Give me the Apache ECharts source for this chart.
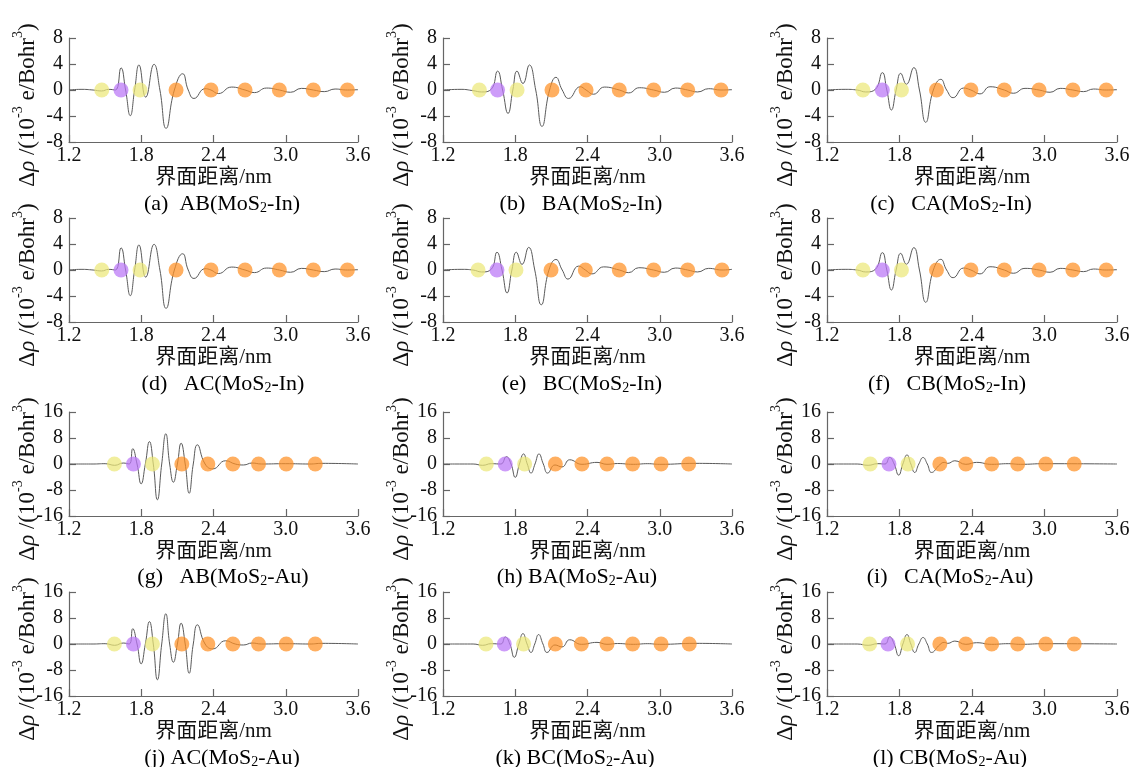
<!DOCTYPE html>
<html>
<head>
<meta charset="utf-8">
<script src="https://cdn.jsdelivr.net/npm/echarts@6/dist/echarts.min.js"></script>
<style>
    html, body { margin: 0; padding: 0; background: #fff; }
    #chart { width: 1137px; height: 767px; }
</style>
</head>
<body>
<div id="chart"></div>
<script>
// tick labels
const xTicks = [1.2, 1.8, 2.4, 3.0, 3.6]
const yTicksIn = [-8, -4, 0, 4, 8]
const yTicksAu = [-16, -8, 0, 8, 16]

// captions
const panelLetters = ["(a)", "(b)", "(c)", "(d)", "(e)", "(f)", "(g)", "(h)", "(i)", "(j)", "(k)", "(l)"]
const panelStack = ["AB", "BA", "CA", "AC", "BC", "CB", "AB", "BA", "CA", "AC", "BC", "CB"]
const panelMetal = ["In", "In", "In", "In", "In", "In", "Au", "Au", "Au", "Au", "Au", "Au"]

// charge density difference curves [distance nm, value]
const lineA = [[1.2, 0], [1.3, 0.1], [1.4, 0], [1.47, -0.15], [1.53, 0.1], [1.585, 0], [1.632, 3.4], [1.67, 0], [1.709, -3.95], [1.745, 0], [1.781, 3.85], [1.837, -1.1], [1.906, 3.95], [1.955, 0], [2.006, -5.9], [2.075, 0], [2.144, 2.5], [2.19, 0], [2.238, -1.3], [2.33, 0.2], [2.379, 0], [2.44, -0.55], [2.55, 0.45], [2.662, 0], [2.74, -0.4], [2.84, 0.3], [2.947, 0], [3.04, -0.35], [3.13, 0.25], [3.229, 0], [3.32, -0.25], [3.41, 0.15], [3.512, 0], [3.6, 0.05]]
const lineB = [[1.2, 0], [1.35, 0.1], [1.45, -0.1], [1.52, -0.3], [1.6, 0.1], [1.653, 2.9], [1.695, 0], [1.74, -3.6], [1.78, 0], [1.815, 2.9], [1.864, 1.0], [1.917, 3.85], [1.97, 0], [2.022, -5.6], [2.085, 0], [2.138, 1.95], [2.19, 0], [2.243, -1.3], [2.34, 0.5], [2.388, 0], [2.45, -0.65], [2.54, 0.45], [2.664, 0], [2.742, -0.45], [2.83, 0.35], [2.949, 0], [3.04, -0.35], [3.13, 0.3], [3.232, 0], [3.315, -0.3], [3.406, 0.2], [3.509, 0], [3.6, 0.05]]
const lineC = [[1.2, 0], [1.35, 0.1], [1.45, 0], [1.52, -0.3], [1.6, 0.1], [1.658, 2.67], [1.695, 0], [1.733, -3.08], [1.772, 0], [1.81, 2.56], [1.857, 0.88], [1.918, 3.44], [1.965, 0], [2.017, -4.97], [2.08, 0], [2.142, 1.64], [2.19, 0], [2.244, -1.18], [2.33, 0.3], [2.391, 0], [2.466, -0.6], [2.549, 0.5], [2.667, 0], [2.742, -0.5], [2.839, 0.25], [2.955, 0], [3.046, -0.35], [3.13, 0.25], [3.235, 0], [3.323, -0.25], [3.406, 0.15], [3.511, 0], [3.6, 0.05]]
const lineD = [[1.2, 0], [1.3, 0.1], [1.4, 0], [1.47, -0.15], [1.53, 0.1], [1.585, 0], [1.632, 3.4], [1.67, 0], [1.709, -3.95], [1.745, 0], [1.781, 3.85], [1.837, -1.1], [1.906, 3.95], [1.955, 0], [2.006, -5.9], [2.075, 0], [2.144, 2.5], [2.19, 0], [2.238, -1.3], [2.33, 0.2], [2.379, 0], [2.44, -0.55], [2.55, 0.45], [2.662, 0], [2.74, -0.4], [2.84, 0.3], [2.947, 0], [3.04, -0.35], [3.13, 0.25], [3.229, 0], [3.32, -0.25], [3.41, 0.15], [3.512, 0], [3.6, 0.05]]
const lineE = [[1.2, 0], [1.35, 0.1], [1.45, 0], [1.52, -0.3], [1.6, 0.1], [1.648, 2.73], [1.69, 0], [1.732, -3.53], [1.772, 0], [1.809, 2.73], [1.856, 0.86], [1.911, 3.48], [1.962, 0], [2.016, -5.35], [2.08, 0], [2.138, 1.62], [2.19, 0], [2.238, -1.4], [2.326, 0.6], [2.382, 0], [2.437, -0.6], [2.534, 0.48], [2.664, 0], [2.742, -0.4], [2.825, 0.35], [2.949, 0], [3.038, -0.35], [3.129, 0.3], [3.232, 0], [3.315, -0.3], [3.406, 0.25], [3.517, 0], [3.6, 0.1]]
const lineF = [[1.2, 0], [1.35, 0.1], [1.45, 0], [1.52, -0.3], [1.6, 0.1], [1.658, 2.67], [1.695, 0], [1.733, -3.08], [1.772, 0], [1.81, 2.56], [1.857, 0.88], [1.918, 3.44], [1.965, 0], [2.017, -4.97], [2.08, 0], [2.142, 1.64], [2.19, 0], [2.244, -1.18], [2.33, 0.3], [2.391, 0], [2.466, -0.6], [2.549, 0.5], [2.667, 0], [2.742, -0.5], [2.839, 0.25], [2.955, 0], [3.046, -0.35], [3.13, 0.25], [3.235, 0], [3.323, -0.25], [3.406, 0.15], [3.511, 0], [3.6, 0.05]]
const lineG = [[1.2, 0], [1.4, 0], [1.5, 0.1], [1.58, -0.4], [1.65, 0.3], [1.7, 0], [1.729, 4.7], [1.765, 0], [1.799, -6.1], [1.834, 0], [1.868, 6.9], [1.9, 0], [1.934, -11.0], [1.97, 0], [2.004, 9.3], [2.036, 0], [2.067, -5.6], [2.1, 0], [2.131, 6.4], [2.165, 0], [2.198, -9.0], [2.232, 0], [2.266, 5.9], [2.33, 0], [2.394, -1.5], [2.5, 1.0], [2.58, 0], [2.65, -0.3], [2.72, 0.3], [2.8, 0], [3.0, 0.1], [3.2, 0], [3.3, 0.2], [3.6, 0]]
const lineH = [[1.2, 0], [1.45, 0], [1.53, -0.4], [1.6, 0.1], [1.68, 0], [1.726, 2.25], [1.765, 0], [1.8, -4.1], [1.835, 0], [1.869, 3.1], [1.9, 0], [1.931, -2.8], [1.964, 0], [1.997, 3.1], [2.033, 0], [2.069, -2.8], [2.13, -0.3], [2.188, -0.9], [2.252, 1.3], [2.354, -0.1], [2.479, 0.5], [2.562, -0.1], [2.65, 0.15], [2.78, -0.1], [2.9, 0.1], [3.0, -0.1], [3.3, 0.2], [3.6, 0]]
const lineI = [[1.2, 0], [1.45, 0], [1.54, -0.4], [1.62, 0.1], [1.68, 0], [1.719, 2.0], [1.756, 0], [1.793, -3.4], [1.828, 0], [1.862, 2.8], [1.894, 0], [1.926, -2.6], [1.96, 0], [1.995, 2.0], [2.03, 0], [2.065, -2.6], [2.134, -0.2], [2.17, 0.5], [2.2, 0.2], [2.258, 1.0], [2.349, -0.1], [2.438, 0.5], [2.563, -0.1], [2.7, 0.1], [2.8, -0.1], [3.0, 0.1], [3.6, 0]]
const lineJ = [[1.2, 0], [1.4, 0], [1.5, 0.1], [1.58, -0.4], [1.65, 0.3], [1.7, 0], [1.729, 4.7], [1.765, 0], [1.799, -6.1], [1.834, 0], [1.868, 6.9], [1.9, 0], [1.934, -11.0], [1.97, 0], [2.004, 9.3], [2.036, 0], [2.067, -5.6], [2.1, 0], [2.131, 6.4], [2.165, 0], [2.198, -9.0], [2.232, 0], [2.266, 5.9], [2.33, 0], [2.394, -1.5], [2.5, 1.0], [2.58, 0], [2.65, -0.3], [2.72, 0.3], [2.8, 0], [3.0, 0.1], [3.2, 0], [3.3, 0.2], [3.6, 0]]
const lineK = [[1.2, 0], [1.45, 0], [1.53, -0.4], [1.6, 0.1], [1.68, 0], [1.717, 2.15], [1.755, 0], [1.792, -4.1], [1.83, 0], [1.864, 3.2], [1.898, 0], [1.931, -2.6], [1.962, 0], [1.994, 2.9], [2.03, 0], [2.064, -2.6], [2.13, -0.3], [2.188, -0.9], [2.252, 1.3], [2.349, -0.1], [2.479, 0.5], [2.562, -0.1], [2.65, 0.15], [2.78, -0.1], [2.9, 0.1], [3.0, -0.1], [3.3, 0.2], [3.6, 0]]
const lineL = [[1.2, 0], [1.45, 0], [1.54, -0.4], [1.62, 0.1], [1.68, 0], [1.719, 2.2], [1.756, 0], [1.793, -3.6], [1.828, 0], [1.862, 2.9], [1.894, 0], [1.926, -2.6], [1.96, 0], [1.995, 2.0], [2.03, 0], [2.065, -2.6], [2.134, -0.2], [2.17, 0.5], [2.2, 0.2], [2.258, 0.9], [2.349, -0.1], [2.438, 0.4], [2.563, -0.1], [2.7, 0.1], [2.8, -0.1], [3.0, 0.1], [3.6, 0]]

// atom positions along the interface normal (nm)
const yellowA = [1.472, 1.79], purpleA = [1.632], orangeA = [2.089, 2.379, 2.662, 2.947, 3.229, 3.512]
const yellowB = [1.502, 1.815], purpleB = [1.653], orangeB = [2.105, 2.388, 2.664, 2.949, 3.232, 3.509]
const yellowC = [1.497, 1.816], purpleC = [1.658], orangeC = [2.106, 2.391, 2.667, 2.955, 3.235, 3.511]
const yellowD = [1.472, 1.79], purpleD = [1.632], orangeD = [2.089, 2.379, 2.662, 2.947, 3.229, 3.512]
const yellowE = [1.491, 1.806], purpleE = [1.648], orangeE = [2.097, 2.382, 2.664, 2.949, 3.232, 3.517]
const yellowF = [1.497, 1.816], purpleF = [1.658], orangeF = [2.106, 2.391, 2.667, 2.955, 3.235, 3.511]
const yellowG = [1.577, 1.893], purpleG = [1.735], orangeG = [2.137, 2.353, 2.561, 2.774, 3.004, 3.245]
const yellowH = [1.56, 1.878], purpleH = [1.717], orangeH = [2.133, 2.354, 2.562, 2.775, 3.011, 3.24]
const yellowI = [1.558, 1.871], purpleI = [1.713], orangeI = [2.134, 2.349, 2.563, 2.778, 3.011, 3.246]
const yellowJ = [1.577, 1.893], purpleJ = [1.735], orangeJ = [2.137, 2.353, 2.561, 2.774, 3.004, 3.245]
const yellowK = [1.557, 1.869], purpleK = [1.709], orangeK = [2.133, 2.349, 2.562, 2.775, 3.011, 3.245]
const yellowL = [1.553, 1.866], purpleL = [1.705], orangeL = [2.134, 2.349, 2.563, 2.778, 3.011, 3.246]

const lines = [lineA, lineB, lineC, lineD, lineE, lineF, lineG, lineH, lineI, lineJ, lineK, lineL]
const yellows = [yellowA, yellowB, yellowC, yellowD, yellowE, yellowF, yellowG, yellowH, yellowI, yellowJ, yellowK, yellowL]
const purples = [purpleA, purpleB, purpleC, purpleD, purpleE, purpleF, purpleG, purpleH, purpleI, purpleJ, purpleK, purpleL]
const oranges = [orangeA, orangeB, orangeC, orangeD, orangeE, orangeF, orangeG, orangeH, orangeI, orangeJ, orangeK, orangeL]

// layout
const colLeft = [69, 443, 827]
const rowTop = [38, 218, 412, 592]
const gridW = 289
const gridH = 104
const captionX = [222, 581, 951, 223, 582, 947, 223, 577, 950, 222, 575, 950]
const captionY = [201, 381, 574, 755]
const captionGap = ["  ", "   ", "   ", "   ", "   ", "   ", "   ", " ", "   ", " ", " ", " "]

const serif = "'Liberation Serif', 'Noto Sans CJK SC', serif"
const axisColor = "#666"
const colors = {
    yellow: "rgba(236, 231, 120, 0.9)",
    purple: "rgba(186, 118, 246, 0.9)",
    orange: "rgba(255, 144, 36, 0.9)",
    line: "#5a5a5a",
}

const chart = echarts.init(document.getElementById("chart"), null, { renderer: "canvas" })

let grids = [], xAxes = [], yAxes = [], series = [], graphics = []

const nameRich = {
    n: { fontSize: 23, fontFamily: serif, color: "#111", verticalAlign: "bottom", lineHeight: 28 },
    r: { fontSize: 23, fontFamily: serif, fontStyle: "italic", color: "#111", verticalAlign: "bottom", lineHeight: 28 },
    s: { fontSize: 14, fontFamily: serif, color: "#111", verticalAlign: "top", lineHeight: 17 },
}

const capRich = {
    n: { fontSize: 22, fontFamily: serif, color: "#111", verticalAlign: "bottom", lineHeight: 28 },
    b: { fontSize: 14, fontFamily: serif, color: "#111", verticalAlign: "bottom", lineHeight: 14 },
}

for (let i = 0; i < 12; i++) {
    const row = Math.floor(i / 3)
    const col = i % 3
    const isAu = row >= 2
    const yTicks = isAu ? yTicksAu : yTicksIn

    grids.push({
        left: colLeft[col],
        top: rowTop[row],
        width: gridW + (col === 2 ? 1 : 0),
        height: gridH,
        containLabel: false,
        outerBoundsMode: "none",
    })

    xAxes.push({
        gridIndex: i,
        type: "value",
        min: xTicks[0],
        max: xTicks[xTicks.length - 1],
        interval: 0.6,
        name: "界面距离/nm",
        nameLocation: "middle",
        nameGap: 23,
        nameMoveOverlap: false,
        nameTextStyle: { fontSize: 21, fontFamily: serif, color: "#111", lineHeight: 24 },
        axisLine: { show: true, onZero: false, lineStyle: { color: axisColor, width: 1.2 } },
        axisTick: { show: true, inside: true, length: 7, lineStyle: { color: axisColor, width: 1.2 } },
        axisLabel: {
            color: "#111",
            fontSize: 20,
            fontFamily: serif,
            margin: 4,
            formatter: v => v.toFixed(1),
        },
        splitLine: { show: false },
    })

    yAxes.push({
        gridIndex: i,
        type: "value",
        min: yTicks[0],
        max: yTicks[yTicks.length - 1],
        interval: yTicks[1] - yTicks[0],
        name: "{n|Δ}{r|ρ}{n| /(10}{s|-3}{n| e/Bohr}{s|3}{n|)}",
        nameLocation: "middle",
        nameRotate: 90,
        nameGap: 30,
        nameMoveOverlap: false,
        // shift the rotated name a little toward the bottom
        nameTextStyle: { rich: nameRich, padding: [0, 30, 0, 0] },
        axisLine: { show: true, onZero: false, lineStyle: { color: axisColor, width: 1.2 } },
        axisTick: { show: true, inside: true, length: 7, lineStyle: { color: axisColor, width: 1.2 } },
        axisLabel: { color: "#111", fontSize: 20, fontFamily: serif, margin: 6 },
        splitLine: { show: false },
    })

    series.push({
        type: "line",
        xAxisIndex: i,
        yAxisIndex: i,
        data: lines[i],
        smooth: 0.5,
        showSymbol: false,
        lineStyle: { color: colors.line, width: 1 },
        z: 2,
        silent: true,
        animation: false,
    })

    const dots = [
        [yellows[i], colors.yellow],
        [purples[i], colors.purple],
        [oranges[i], colors.orange],
    ]
    dots.forEach(([xs, c]) => {
        series.push({
            type: "scatter",
            xAxisIndex: i,
            yAxisIndex: i,
            data: xs.map(x => [x, 0]),
            symbolSize: 15,
            itemStyle: { color: c },
            z: 3,
            silent: true,
            animation: false,
        })
    })

    graphics.push({
        type: "text",
        x: captionX[i],
        y: captionY[row],
        style: {
            text: `{n|${panelLetters[i]}${captionGap[i]}${panelStack[i]}(MoS}{b|2}{n|-${panelMetal[i]})}`,
            rich: capRich,
            align: "center",
            verticalAlign: "middle",
        },
        silent: true,
    })
}

const option = {
    backgroundColor: "#fff",
    animation: false,
    grid: grids,
    xAxis: xAxes,
    yAxis: yAxes,
    series: series,
    graphic: graphics,
}

chart.setOption(option, true)
</script>
</body>
</html>
